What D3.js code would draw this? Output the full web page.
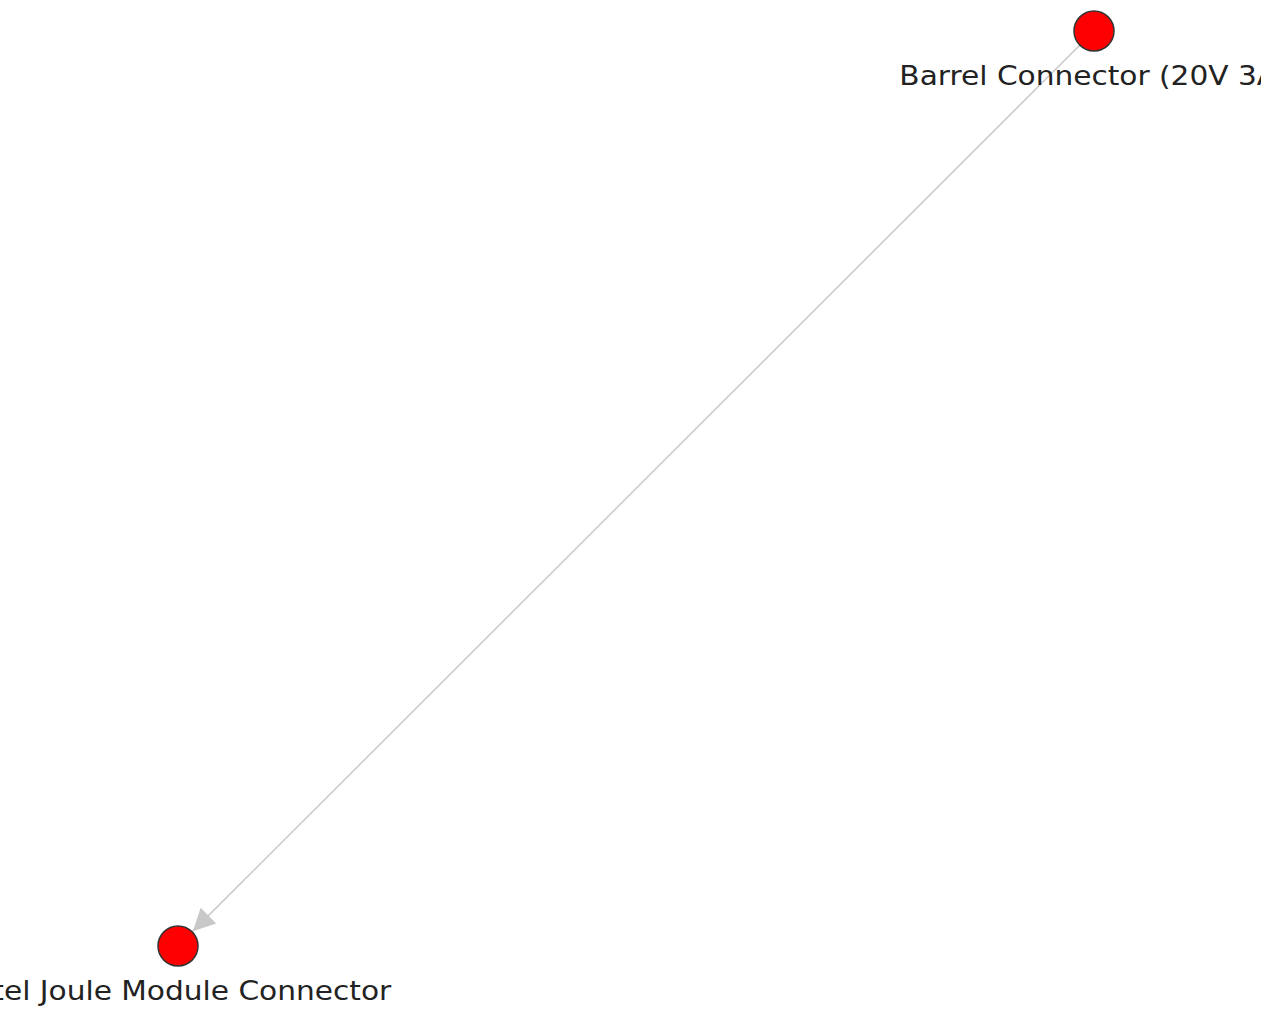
<!DOCTYPE html>
<html>
<head>
<meta charset="utf-8">
<script src="https://cdn.jsdelivr.net/npm/d3@7"></script>
<style>
  html, body { margin: 0; padding: 0; background: #fff; overflow: hidden; }
  svg { display: block; }
  .labels text { font-family: "DejaVu Sans", sans-serif; font-size: 26px; fill: #222; }
</style>
</head>
<body>
<svg width="1261" height="1011"></svg>
<script>
// layout positions (normalised 0..1)
const nodeIds = ["Intel Joule Module Connector", "Barrel Connector (20V 3A)"];
const nodeX = [0, 1];
const nodeY = [0, 1];
const linkSources = ["Barrel Connector (20V 3A)"];
const linkTargets = ["Intel Joule Module Connector"];

document.addEventListener('DOMContentLoaded', function () {
  const svg = d3.select("svg");
  const r = 20;

  const x = d3.scaleLinear().domain([0, 1]).range([178, 1094]);
  const y = d3.scaleLinear().domain([0, 1]).range([946, 31]);

  const nodes = nodeIds.map((id, i) => ({ id: id, x: x(nodeX[i]), y: y(nodeY[i]) }));
  const byId = new Map(nodes.map(d => [d.id, d]));
  const links = linkSources.map((s, i) => ({ source: byId.get(s), target: byId.get(linkTargets[i]) }));

  svg.append("defs").append("marker")
    .attr("id", "arrow")
    .attr("viewBox", "0 -5 10 10")
    .attr("refX", 10)
    .attr("refY", 0)
    .attr("markerUnits", "userSpaceOnUse")
    .attr("markerWidth", 24)
    .attr("markerHeight", 22)
    .attr("orient", "auto")
    .append("path")
    .attr("d", "M0,-5L10,0L0,5Z")
    .attr("fill", "#c8c8c8");

  // Edges, trimmed to the circle edge so the arrow tip touches it
  svg.append("g")
    .attr("class", "links")
    .selectAll("line")
    .data(links)
    .enter().append("line")
    .attr("x1", d => d.source.x)
    .attr("y1", d => d.source.y)
    .attr("x2", d => {
      const dx = d.target.x - d.source.x, dy = d.target.y - d.source.y;
      const len = Math.hypot(dx, dy);
      return d.target.x - dx / len * (r + 1);
    })
    .attr("y2", d => {
      const dx = d.target.x - d.source.x, dy = d.target.y - d.source.y;
      const len = Math.hypot(dx, dy);
      return d.target.y - dy / len * (r + 1);
    })
    .attr("stroke", "#cccccc")
    .attr("stroke-width", 1.6)
    .attr("marker-end", "url(#arrow)");

  svg.append("g")
    .attr("class", "nodes")
    .selectAll("circle")
    .data(nodes)
    .enter().append("circle")
    .attr("cx", d => d.x)
    .attr("cy", d => d.y)
    .attr("r", r)
    .attr("fill", "#ff0000")
    .attr("stroke", "#333")
    .attr("stroke-width", 1.5);

  // labels are a bit wider than plain DejaVu in the original
  svg.append("g")
    .attr("class", "labels")
    .selectAll("text")
    .data(nodes)
    .enter().append("text")
    .attr("text-anchor", "middle")
    .attr("transform", d => `translate(${d.x},${d.y + 54}) scale(1.14,1)`)
    .text(d => d.id);
});
</script>
</body>
</html>
